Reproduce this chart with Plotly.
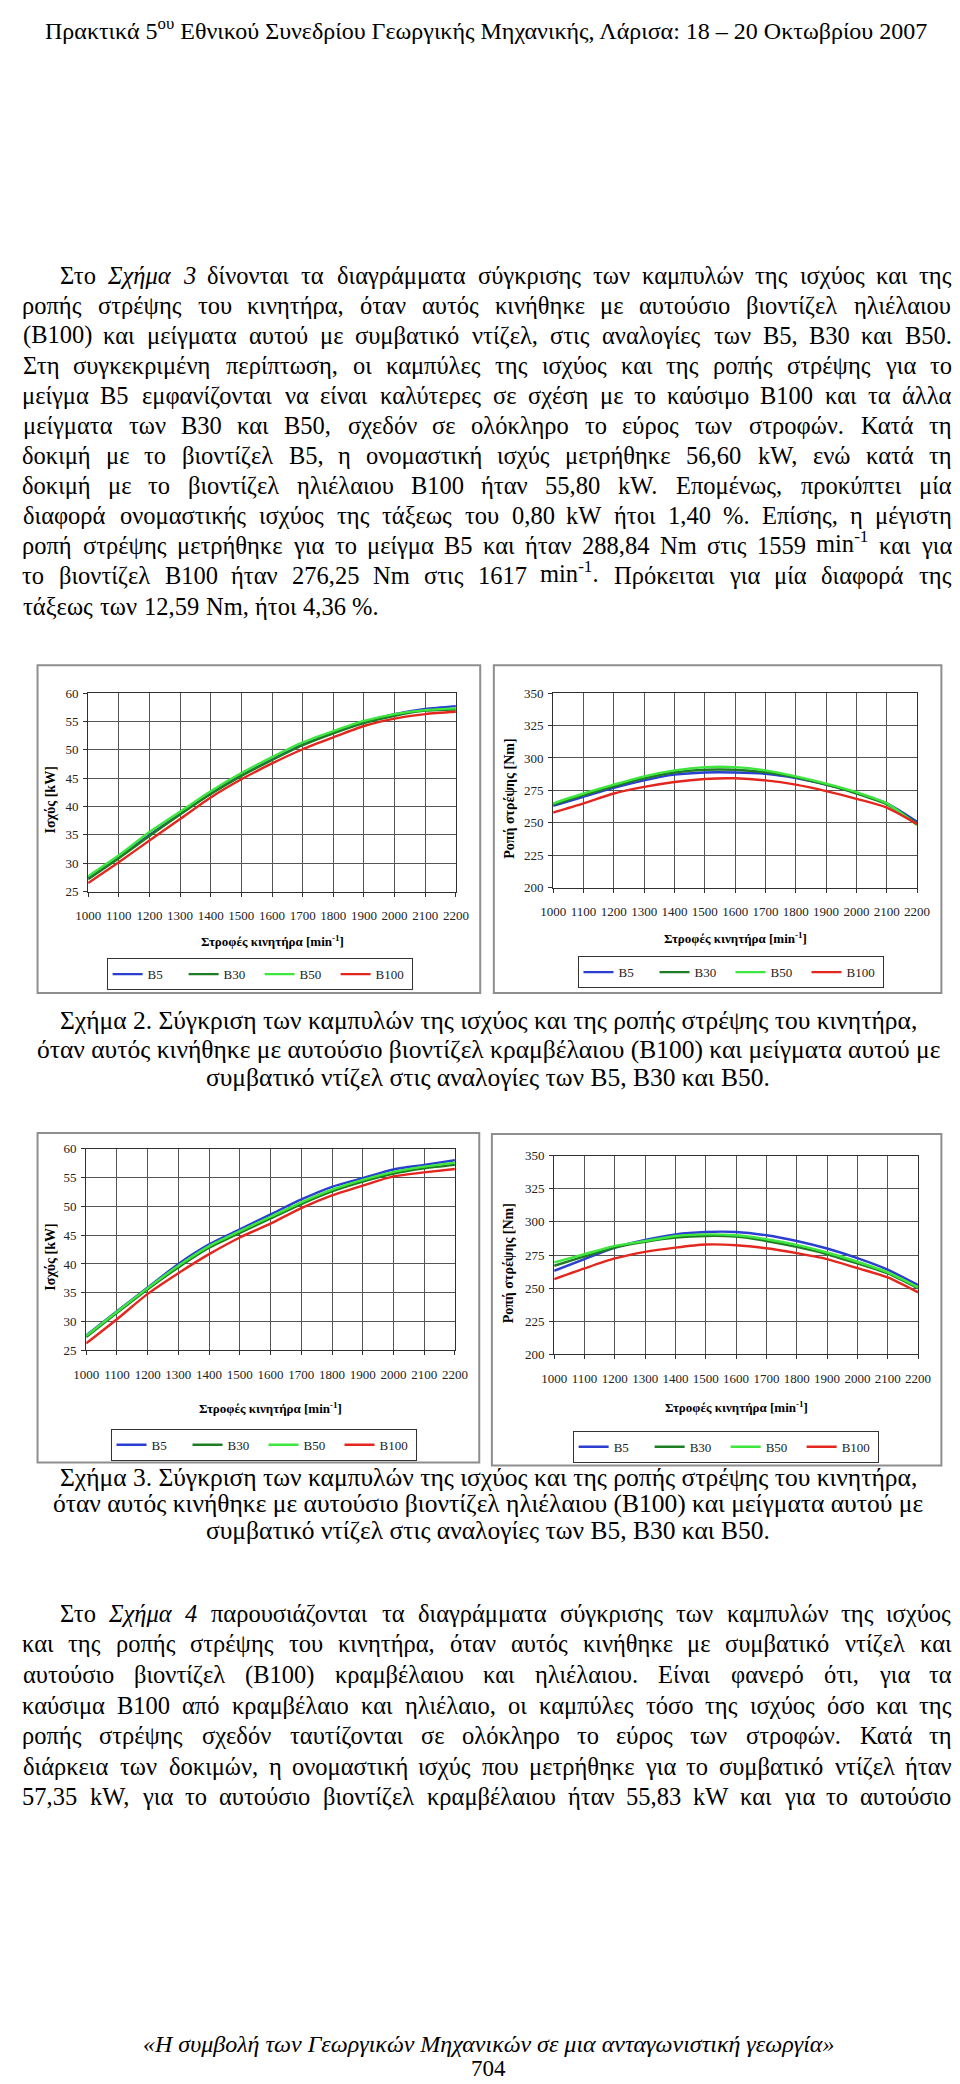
import re
import plotly.graph_objects as go

# ---------------- DATA ----------------
RPM = [1000, 1100, 1200, 1300, 1400, 1500, 1600, 1700, 1800, 1900, 2000, 2100, 2200]
SERIES = ["B5", "B30", "B50", "B100"]

# Figure 2 - rapeseed biodiesel blends
F2_POWER_B5 = [27.4, 31.1, 35.0, 38.7, 42.3, 45.5, 48.3, 50.9, 53.0, 54.9, 56.3, 57.2, 57.7]
F2_POWER_B30 = [27.2, 30.9, 34.8, 38.6, 42.2, 45.4, 48.2, 50.8, 52.9, 54.7, 56.0, 56.9, 57.1]
F2_POWER_B50 = [27.7, 31.4, 35.5, 39.1, 42.7, 45.9, 48.7, 51.3, 53.3, 55.1, 56.3, 57.0, 57.3]
F2_POWER_B100 = [26.5, 30.2, 34.0, 37.8, 41.6, 44.8, 47.6, 50.1, 52.2, 54.2, 55.5, 56.3, 56.7]

F2_TORQUE_B5 = [263.0, 270.1, 276.9, 282.7, 287.1, 288.8, 288.8, 287.8, 284.5, 279.4, 273.1, 265.0, 250.8]
F2_TORQUE_B30 = [264.0, 271.3, 278.2, 284.3, 288.8, 290.9, 290.9, 289.0, 285.0, 279.4, 272.6, 264.2, 249.5]
F2_TORQUE_B50 = [265.0, 272.6, 279.4, 285.8, 290.4, 292.9, 292.9, 290.4, 285.8, 280.2, 273.6, 265.0, 248.2]
F2_TORQUE_B100 = [257.9, 265.0, 272.6, 277.7, 281.5, 283.8, 284.3, 282.7, 279.4, 274.4, 268.5, 261.7, 249.0]

# Figure 3 - sunflower biodiesel blends
F3_POWER_B5 = [27.6, 31.8, 35.9, 40.0, 43.4, 46.0, 48.6, 51.2, 53.4, 54.9, 56.4, 57.2, 58.0]
F3_POWER_B30 = [27.3, 31.5, 35.6, 39.4, 42.8, 45.4, 47.9, 50.4, 52.6, 54.3, 55.7, 56.6, 57.2]
F3_POWER_B50 = [27.5, 31.7, 35.8, 39.7, 43.1, 45.7, 48.2, 50.7, 52.9, 54.6, 56.0, 56.9, 57.6]
F3_POWER_B100 = [26.2, 30.4, 34.8, 38.4, 41.7, 44.6, 47.0, 49.7, 51.9, 53.6, 55.2, 55.9, 56.5]

F3_TORQUE_B5 = [263.1, 271.9, 280.6, 286.4, 290.6, 292.4, 292.4, 289.9, 285.6, 279.9, 272.6, 263.9, 252.3]
F3_TORQUE_B30 = [266.9, 273.9, 280.6, 284.9, 288.1, 289.4, 288.9, 285.6, 281.1, 275.6, 268.6, 261.1, 249.8]
F3_TORQUE_B50 = [269.4, 275.6, 281.9, 285.6, 289.4, 290.6, 289.9, 286.9, 282.6, 276.9, 269.9, 261.9, 250.6]
F3_TORQUE_B100 = [256.8, 264.9, 272.4, 277.4, 280.6, 282.9, 282.4, 280.1, 276.4, 271.9, 265.1, 258.1, 246.8]

POWER_TICKS = [25, 30, 35, 40, 45, 50, 55, 60]
TORQUE_TICKS = [200, 225, 250, 275, 300, 325, 350]

# ---------------- TEXT ----------------
HEADER = "Πρακτικά 5<sup>ου</sup> Εθνικού Συνεδρίου Γεωργικής Μηχανικής, Λάρισα: 18 – 20 Οκτωβρίου 2007"
PARA1 = [
    "Στο <i>Σχήμα</i> <i>3</i> δίνονται τα διαγράμματα σύγκρισης των καμπυλών της ισχύος και της",
    "ροπής στρέψης του κινητήρα, όταν αυτός κινήθηκε με αυτούσιο βιοντίζελ ηλιέλαιου",
    "(B100) και μείγματα αυτού με συμβατικό ντίζελ, στις αναλογίες των B5, B30 και B50.",
    "Στη συγκεκριμένη περίπτωση, οι καμπύλες της ισχύος και της ροπής στρέψης για το",
    "μείγμα B5 εμφανίζονται να είναι καλύτερες σε σχέση με το καύσιμο B100 και τα άλλα",
    "μείγματα των B30 και B50, σχεδόν σε ολόκληρο το εύρος των στροφών. Κατά τη",
    "δοκιμή με το βιοντίζελ B5, η ονομαστική ισχύς μετρήθηκε 56,60 kW, ενώ κατά τη",
    "δοκιμή με το βιοντίζελ ηλιέλαιου B100 ήταν 55,80 kW. Επομένως, προκύπτει μία",
    "διαφορά ονομαστικής ισχύος της τάξεως του 0,80 kW ήτοι 1,40 %. Επίσης, η μέγιστη",
    "ροπή στρέψης μετρήθηκε για το μείγμα B5 και ήταν 288,84 Nm στις 1559 min<sup>-1</sup> και για",
    "το βιοντίζελ B100 ήταν 276,25 Nm στις 1617 min<sup>-1</sup>. Πρόκειται για μία διαφορά της",
    "τάξεως των 12,59 Nm, ήτοι 4,36 %.",
]
CAPTION2 = [
    "Σχήμα 2. Σύγκριση των καμπυλών της ισχύος και της ροπής στρέψης του κινητήρα,",
    "όταν αυτός κινήθηκε με αυτούσιο βιοντίζελ κραμβέλαιου (B100) και μείγματα αυτού με",
    "συμβατικό ντίζελ στις αναλογίες των B5, B30 και B50.",
]
CAPTION3 = [
    "Σχήμα 3. Σύγκριση των καμπυλών της ισχύος και της ροπής στρέψης του κινητήρα,",
    "όταν αυτός κινήθηκε με αυτούσιο βιοντίζελ ηλιέλαιου (B100) και μείγματα αυτού με",
    "συμβατικό ντίζελ στις αναλογίες των B5, B30 και B50.",
]
PARA4 = [
    "Στο <i>Σχήμα</i> <i>4</i> παρουσιάζονται τα διαγράμματα σύγκρισης των καμπυλών της ισχύος",
    "και της ροπής στρέψης του κινητήρα, όταν αυτός κινήθηκε με συμβατικό ντίζελ και",
    "αυτούσιο βιοντίζελ (B100) κραμβέλαιου και ηλιέλαιου. Είναι φανερό ότι, για τα",
    "καύσιμα B100 από κραμβέλαιο και ηλιέλαιο, οι καμπύλες τόσο της ισχύος όσο και της",
    "ροπής στρέψης σχεδόν ταυτίζονται σε ολόκληρο το εύρος των στροφών. Κατά τη",
    "διάρκεια των δοκιμών, η ονομαστική ισχύς που μετρήθηκε για το συμβατικό ντίζελ ήταν",
    "57,35 kW, για το αυτούσιο βιοντίζελ κραμβέλαιου ήταν 55,83 kW και για το αυτούσιο",
]
FOOTER = "<i>«Η συμβολή των Γεωργικών Μηχανικών σε μια ανταγωνιστική γεωργία»</i>"
PAGE_NO = "704"
X_TITLE = "<b>Στροφές κινητήρα [min<sup>-1</sup>]</b>"
Y_POWER = "<b>Ισχύς [kW]</b>"
Y_TORQUE = "<b>Ροπή στρέψης [Nm]</b>"

# ---------------- STYLE ----------------
W_PX, H_PX = 960, 2084
SERIF = "Liberation Serif, Times New Roman, serif"
COLORS = {"B5": "#2a3fd0", "B30": "#1c7d22", "B50": "#3ee63e", "B100": "#e3261e"}
GRID = "#555555"
AXC = "#303030"
BODY_FS = 24.5
CAP_FS = 25.5
WIDTH_FACTOR = 1.04


def px(x):
    return x / W_PX


def py(y):
    return 1 - y / H_PX


# approximate Times/Liberation Serif advance widths (em)
WID = {}
for ch, w in {" ": 0.25, ",": 0.25, ".": 0.25, "(": 0.333, ")": 0.333, "%": 0.833, "-": 0.333,
              ":": 0.278, "–": 0.5, "«": 0.5, "»": 0.5,
              "B": 0.667, "k": 0.5, "W": 0.944, "N": 0.722, "m": 0.778, "i": 0.278, "n": 0.5,
              "Σ": 0.6, "Κ": 0.72, "Ε": 0.61, "Π": 0.72, "Ο": 0.72, "Γ": 0.58, "Η": 0.72,
              "Μ": 0.89, "Λ": 0.72,
              "α": 0.53, "ά": 0.53, "β": 0.5, "γ": 0.45, "δ": 0.5, "ε": 0.43, "έ": 0.43,
              "ζ": 0.41, "η": 0.5, "ή": 0.5, "θ": 0.5, "ι": 0.28, "ί": 0.28, "κ": 0.5,
              "λ": 0.49, "μ": 0.52, "ν": 0.45, "ξ": 0.42, "ο": 0.5, "ό": 0.5, "π": 0.53,
              "ρ": 0.5, "σ": 0.53, "ς": 0.41, "τ": 0.42, "υ": 0.48, "ύ": 0.48, "φ": 0.63,
              "χ": 0.47, "ψ": 0.65, "ω": 0.68, "ώ": 0.68}.items():
    WID[ch] = w
for d in "0123456789":
    WID[d] = 0.5


def text_width(s, fs):
    total, scale = 0.0, 1.0
    for tok in re.split(r"(<[^>]+>)", s):
        if tok.startswith("<"):
            if tok == "<sup>":
                scale = 0.7
            elif tok == "</sup>":
                scale = 1.0
            continue
        for ch in tok:
            total += WID.get(ch, 0.5) * scale
    return total * fs * WIDTH_FACTOR


annotations = []


def ann(x, y, text, fs, xanchor="center", textangle=0, color="black"):
    annotations.append(dict(x=px(x), y=py(y), xref="paper", yref="paper", text=text,
                            showarrow=False, xanchor=xanchor, yanchor="middle",
                            textangle=textangle,
                            font=dict(family=SERIF, size=fs, color=color)))


def place_line(line, y, x0, x1, fs, justify):
    words = line.split(" ")
    ws = [text_width(w, fs) for w in words]
    tot = sum(ws)
    if justify and len(words) > 1:
        gap = max((x1 - x0 - tot) / (len(words) - 1), 0.18 * fs)
    else:
        gap = 0.25 * fs
    x = x0
    for w, wd in zip(words, ws):
        yy = y - 0.17 * fs if "<sup>" in w else y
        ann(x + wd / 2, yy, w, fs)
        x += wd + gap


def paragraph(lines, y0, dy, fs, indent=38, x0=1, x1=957, justify_last=False):
    for i, line in enumerate(lines):
        last = i == len(lines) - 1
        place_line(line, y0 + i * dy, x0 + (indent if i == 0 else 0), x1, fs,
                   justify=(not last) or justify_last)


# ---------------- FIGURE ----------------
fig = go.Figure()

panels = [
    # (axis suffix, plot box px, series, yrange, yticks, ytitle, legend pos, ytitle x, xtitle y)
    ("", (69, 447, 683, 883), {"B5": F2_POWER_B5, "B30": F2_POWER_B30, "B50": F2_POWER_B50, "B100": F2_POWER_B100},
     [25, 60], POWER_TICKS, Y_POWER, (88, 950), 30, 933),
    ("2", (547, 921, 683, 879), {"B5": F2_TORQUE_B5, "B30": F2_TORQUE_B30, "B50": F2_TORQUE_B50, "B100": F2_TORQUE_B100},
     [200, 350], TORQUE_TICKS, Y_TORQUE, (572, 948), 502, 930),
    ("3", (67, 446, 1142, 1345), {"B5": F3_POWER_B5, "B30": F3_POWER_B30, "B50": F3_POWER_B50, "B100": F3_POWER_B100},
     [25, 60], POWER_TICKS, Y_POWER, (92, 1424), 30, 1403),
    ("4", (548, 922, 1149, 1349), {"B5": F3_TORQUE_B5, "B30": F3_TORQUE_B30, "B50": F3_TORQUE_B50, "B100": F3_TORQUE_B100},
     [200, 350], TORQUE_TICKS, Y_TORQUE, (567, 1426), 502, 1402),
]

layout = dict(width=W_PX, height=H_PX, margin=dict(l=0, r=0, t=0, b=0),
              paper_bgcolor="white", plot_bgcolor="white", showlegend=True)

for suf, (x0, x1, y0, y1), data, yr, yt, ytitle, (lx, ly), ytx, xty in panels:
    leg = "legend" + suf
    for s in SERIES:
        fig.add_trace(go.Scatter(x=RPM, y=data[s], mode="lines", name=s,
                                 line=dict(color=COLORS[s], width=2.4, shape="spline", smoothing=0.7),
                                 xaxis="x" + suf, yaxis="y" + suf, legend=leg,
                                 hoverinfo="skip"))
    common = dict(showgrid=True, gridcolor=GRID, gridwidth=1, showline=True, linecolor=AXC,
                  linewidth=1, mirror=True, ticks="outside", ticklen=4, tickcolor=AXC,
                  tickfont=dict(family=SERIF, size=13, color="#222"), zeroline=False,
                  fixedrange=True, tickangle=0)
    layout["xaxis" + suf] = dict(domain=[px(x0), px(x1)], anchor="y" + suf, range=[1000, 2200],
                                 tickmode="array", tickvals=RPM, ticktext=[str(v) for v in RPM],
                                 ticklabelstandoff=8, **common)
    layout["yaxis" + suf] = dict(domain=[py(y1), py(y0)], anchor="x" + suf, range=yr,
                                 tickmode="array", tickvals=yt, ticktext=[str(v) for v in yt],
                                 ticklabelstandoff=2, **common)
    layout[leg] = dict(x=px(lx), y=py(ly), xanchor="left", yanchor="top", orientation="h",
                       bordercolor="#333", borderwidth=1, bgcolor="white",
                       font=dict(family=SERIF, size=13, color="#222"),
                       entrywidth=31, entrywidthmode="pixels", itemwidth=30,
                       itemclick=False, itemdoubleclick=False)
    ann((x0 + x1) / 2, xty, X_TITLE, 13)
    ann(ytx, (y0 + y1) / 2 + 8, ytitle, 14, textangle=-90)

# chart frames
shapes = []
for (bx0, bx1, by0, by1) in [(17, 472, 655, 985), (486, 946, 655, 985),
                             (17, 471, 1126, 1458), (484, 946, 1127, 1461)]:
    shapes.append(dict(type="rect", xref="paper", yref="paper", x0=px(bx0), x1=px(bx1),
                       y0=py(by1), y1=py(by0), line=dict(color="#8e8e8e", width=2),
                       fillcolor="rgba(0,0,0,0)", layer="below"))

# page text
ann(478, 14, HEADER, 24)
paragraph(PARA1, 262, 30.3, BODY_FS)
for i, line in enumerate(CAPTION2):
    ann(480, 1013 + i * 28.5, line, CAP_FS)
for i, line in enumerate(CAPTION3):
    ann(480, 1473 + i * 26.5, line, CAP_FS)
paragraph(PARA4, 1610, 30.8, BODY_FS, justify_last=True)
ann(480, 2044, FOOTER, 24)
ann(480, 2068, PAGE_NO, 23)

layout["annotations"] = annotations
layout["shapes"] = shapes
fig.update_layout(**layout)
fig.write_html("out.html")
